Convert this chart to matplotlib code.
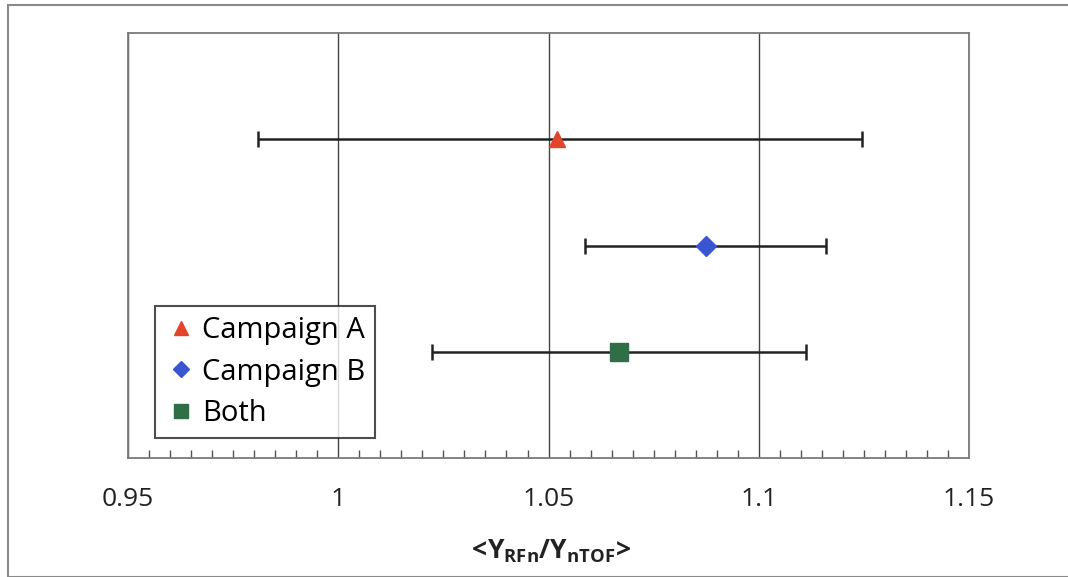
#!/usr/bin/env python
"""Yield ratio comparison, campaign A / B / both"""

import matplotlib
matplotlib.use('Agg')
import matplotlib.pyplot as plt
from matplotlib.patches import Rectangle
from matplotlib.ticker import MultipleLocator

plt.rcParams['font.family'] = ['Open Sans', 'DejaVu Sans']
plt.rcParams['mathtext.fontset'] = 'custom'
plt.rcParams['mathtext.bf'] = 'Open Sans:bold'
plt.rcParams['mathtext.rm'] = 'Open Sans'

# data
labels = ['Campaign A', 'Campaign B', 'Both']
ratio = [1.0519, 1.0875, 1.0667]
err_lo = [0.981, 1.0586, 1.0223]
err_hi = [1.1245, 1.1161, 1.1113]
rows = [3, 2, 1]

markers = ['^', 'D', 's']
colors = ['#e2452b', '#3a55d0', '#2f6e47']
sizes = [12, 10, 13]

fig = plt.figure(figsize=(10.68, 5.77), dpi=100)
ax = fig.add_axes([0.1199, 0.2062, 0.9073 - 0.1199, 0.9428 - 0.2062])

for i in range(len(labels)):
    ax.errorbar(ratio[i], rows[i],
                xerr=[[ratio[i] - err_lo[i]], [err_hi[i] - ratio[i]]],
                fmt='none', ecolor='#222222', elinewidth=1.8, capsize=6,
                capthick=1.8, zorder=2)
    ax.plot(ratio[i], rows[i], linestyle='none', marker=markers[i],
            color=colors[i], markersize=sizes[i], label=labels[i], zorder=3)

ax.set_xlim(0.95, 1.15)
ax.set_ylim(0, 4)
ax.xaxis.set_minor_locator(MultipleLocator(0.005))
ax.set_xticks([0.95, 1.0, 1.05, 1.1, 1.15])
ax.set_xticklabels(['0.95', '1', '1.05', '1.1', '1.15'])
ax.tick_params(axis='x', which='major', direction='inout', length=0,
               labelsize=19, pad=21, colors='#222222')
ax.tick_params(axis='x', which='minor', direction='in', length=6,
               width=1, color='#555555')
ax.set_yticks([])
ax.grid(axis='x', which='major', color='#444444', linewidth=1.0)

for s in ax.spines.values():
    s.set_color('#7a7a7a')
    s.set_linewidth(1.3)

ax.set_xlabel(r'$\mathbf{<\!Y_{RFn}/Y_{nTOF}\!>}$', fontsize=19, labelpad=18,
              color='#222222')

leg = ax.legend(loc='lower left', bbox_to_anchor=(0.032, 0.047), fontsize=21,
                frameon=True, fancybox=False, edgecolor='#222222',
                handletextpad=0.15, handlelength=1.1, borderpad=0.35,
                labelspacing=0.42, markerscale=0.8, borderaxespad=0)
leg.get_frame().set_linewidth(1.5)

# outer chart border
fig.patches.append(Rectangle((8 / 1068, 0.5 / 577), 1.2, 572 / 577,
                             transform=fig.transFigure, fill=False,
                             edgecolor='#8a8a8a', linewidth=1.5))

fig.savefig('out.png', dpi=100)
